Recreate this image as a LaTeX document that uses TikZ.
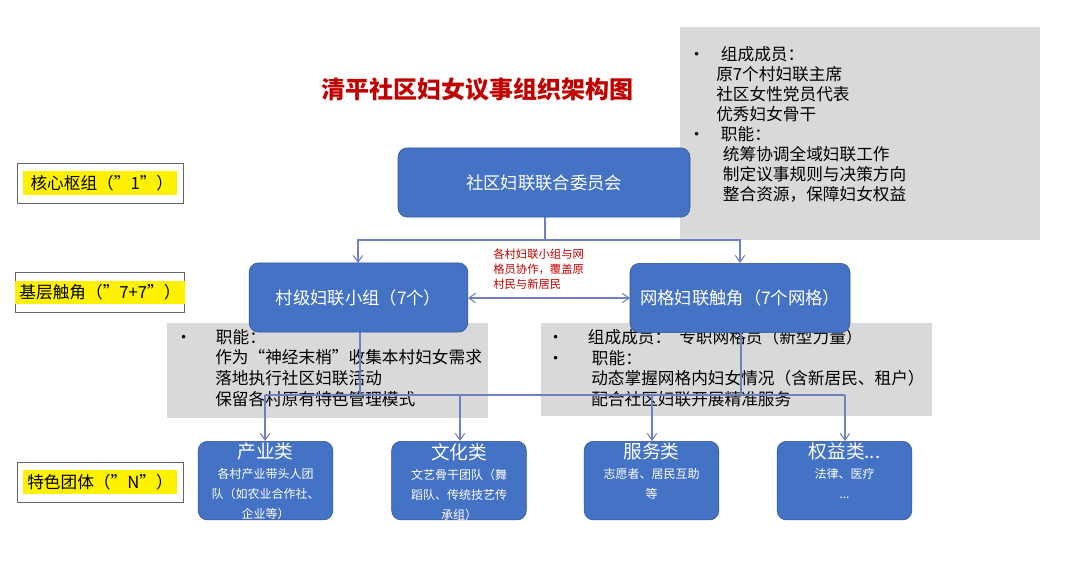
\documentclass[tikz,border=0pt]{standalone}
\usepackage{fontspec}
\setmainfont{Noto Sans CJK SC}
\usetikzlibrary{arrows.meta}
\definecolor{bl}{HTML}{4472C4}
\definecolor{bld}{HTML}{2F528F}
\definecolor{ln}{HTML}{6F7FC0}
\definecolor{gr}{HTML}{D9D9D9}
\definecolor{rd}{HTML}{C00000}
\newcommand\mydots{...}
\begin{document}
\begin{tikzpicture}[x=0.75pt,y=-0.75pt,
  bbox/.style={draw=bld,fill=bl,rounded corners=7pt,text=white,align=center,inner sep=2pt},
  lab/.style={draw=black!60,minimum width=124.5pt,minimum height=30pt,inner sep=0pt},
  con/.style={draw=ln,line width=0.8pt},
  arr/.style={con,-{Straight Barb[length=5pt,width=7pt]}}]
\useasboundingbox (0,0) rectangle (1072,574);
\fill[white] (0,0) rectangle (1072,574);
% gray boxes
\fill[gr] (680,27) rectangle (1040,240);
\fill[gr] (167,323) rectangle (488,418);
\fill[gr] (541,323) rectangle (932,416);
\node[anchor=north west,align=left,font=\fontsize{12.5}{15}\selectfont,inner sep=0pt] (gt) at (688,46)
 {•\hspace{12pt}组成成员：\\
  \hspace{21pt}原7个村妇联主席\\
  \hspace{21pt}社区女性党员代表\\
  \hspace{21pt}优秀妇女骨干\\
  •\hspace{12pt}职能：\\
  \hspace{26pt}统筹协调全域妇联工作\\
  \hspace{26pt}制定议事规则与决策方向\\
  \hspace{26pt}整合资源，保障妇女权益};
\node[anchor=north west,align=left,font=\fontsize{12.5}{15.5}\selectfont,inner sep=0pt] (gl) at (175,329)
 {•\hspace{18pt}职能：\\
  \hspace{30pt}作为“神经末梢”收集本村妇女需求\\
  \hspace{30pt}落地执行社区妇联活动\\
  \hspace{30pt}保留各村原有特色管理模式};
\node[anchor=north west,align=left,font=\fontsize{12.5}{15.5}\selectfont,inner sep=0pt] (gr2) at (547,329)
 {•\hspace{18pt}组成成员：\hspace{6pt}专职网格员（新型力量）\\
  •\hspace{21pt}职能：\\
  \hspace{33pt}动态掌握网格内妇女情况（含新居民、租户）\\
  \hspace{33pt}配合社区妇联开展精准服务};
% title
\node[text=rd,font=\fontsize{18}{20}\selectfont\bfseries] (title) at (477,89) {清平社区妇女议事组织架构图};
% left labels
\node[lab] (l1) at (100,183) {\colorbox{yellow}{\fontsize{12.5}{14}\selectfont\ 核心枢组（"1"）}};
\node[lab] (l2) at (100,292.5) {\colorbox{yellow}{\fontsize{12.5}{14}\selectfont 基层触角（"7+7"）}};
\node[lab] (l3) at (100,482) {\colorbox{yellow}{\fontsize{12.5}{14}\selectfont 特色团体（"N"）}};
% connectors
\coordinate (j1) at (545,240);
\coordinate (jl) at (360,395);
\coordinate (jr) at (741,395);
\draw[con] (545,217) -- (j1);
\draw[arr] (j1) -| (358,263);
\draw[arr] (j1) -| (740,263);
\draw[con] (360,332) -- (jl);
\draw[con] (741,333) -- (jr);
\draw[con] (265,395) -- (845,395);
\draw[arr] (265,395) -- (265,441);
\draw[arr] (460,395) -- (460,441);
\draw[arr] (652,395) -- (652,441);
\draw[arr] (845,395) -- (845,441);
\draw[con,{Straight Barb[length=5pt,width=7pt]}-{Straight Barb[length=5pt,width=7pt]}] (468,298) -- (630,298);
\node[text=rd,align=left,anchor=north west,font=\fontsize{8.5}{11}\selectfont,inner sep=0pt] (note) at (493,249)
 {各村妇联小组与网\\格员协作，覆盖原\\村民与新居民};
% blue boxes
\node[bbox,minimum width=219pt,minimum height=52pt,font=\fontsize{13}{16}\selectfont] (main) at (544,182.5) {社区妇联联合委员会};
\node[bbox,minimum width=164pt,minimum height=52pt,font=\fontsize{13}{16}\selectfont] (vil) at (358.5,297.5) {村级妇联小组（7个）};
\node[bbox,minimum width=165pt,minimum height=52pt,text width=150pt,font=\fontsize{13}{17}\selectfont] (grid) at (740,298) {网格妇联触角（7个网格）};
\foreach \n/\x/\t/\s in {a/265.5/产业类/{各村产业带头人团\\队（如农业合作社、\\企业等）},
  b/459/文化类/{文艺骨干团队（舞\\蹈队、传统技艺传\\承组）},
  c/651.5/服务类/{志愿者、居民互助\\等},
  d/844.5/权益类\mydots/{法律、医疗\\\mydots}}{
  \node[bbox,minimum width=101pt,minimum height=59pt,anchor=north,align=center] (\n) at (\x,441) {};
  \node[anchor=north,text=white,align=center,inner sep=0pt,font=\fontsize{9}{15}\selectfont] (\n t) at (\x,443)
    {{\fontsize{14}{17}\selectfont\t}\\ \s};
}
\end{tikzpicture}
\end{document}
